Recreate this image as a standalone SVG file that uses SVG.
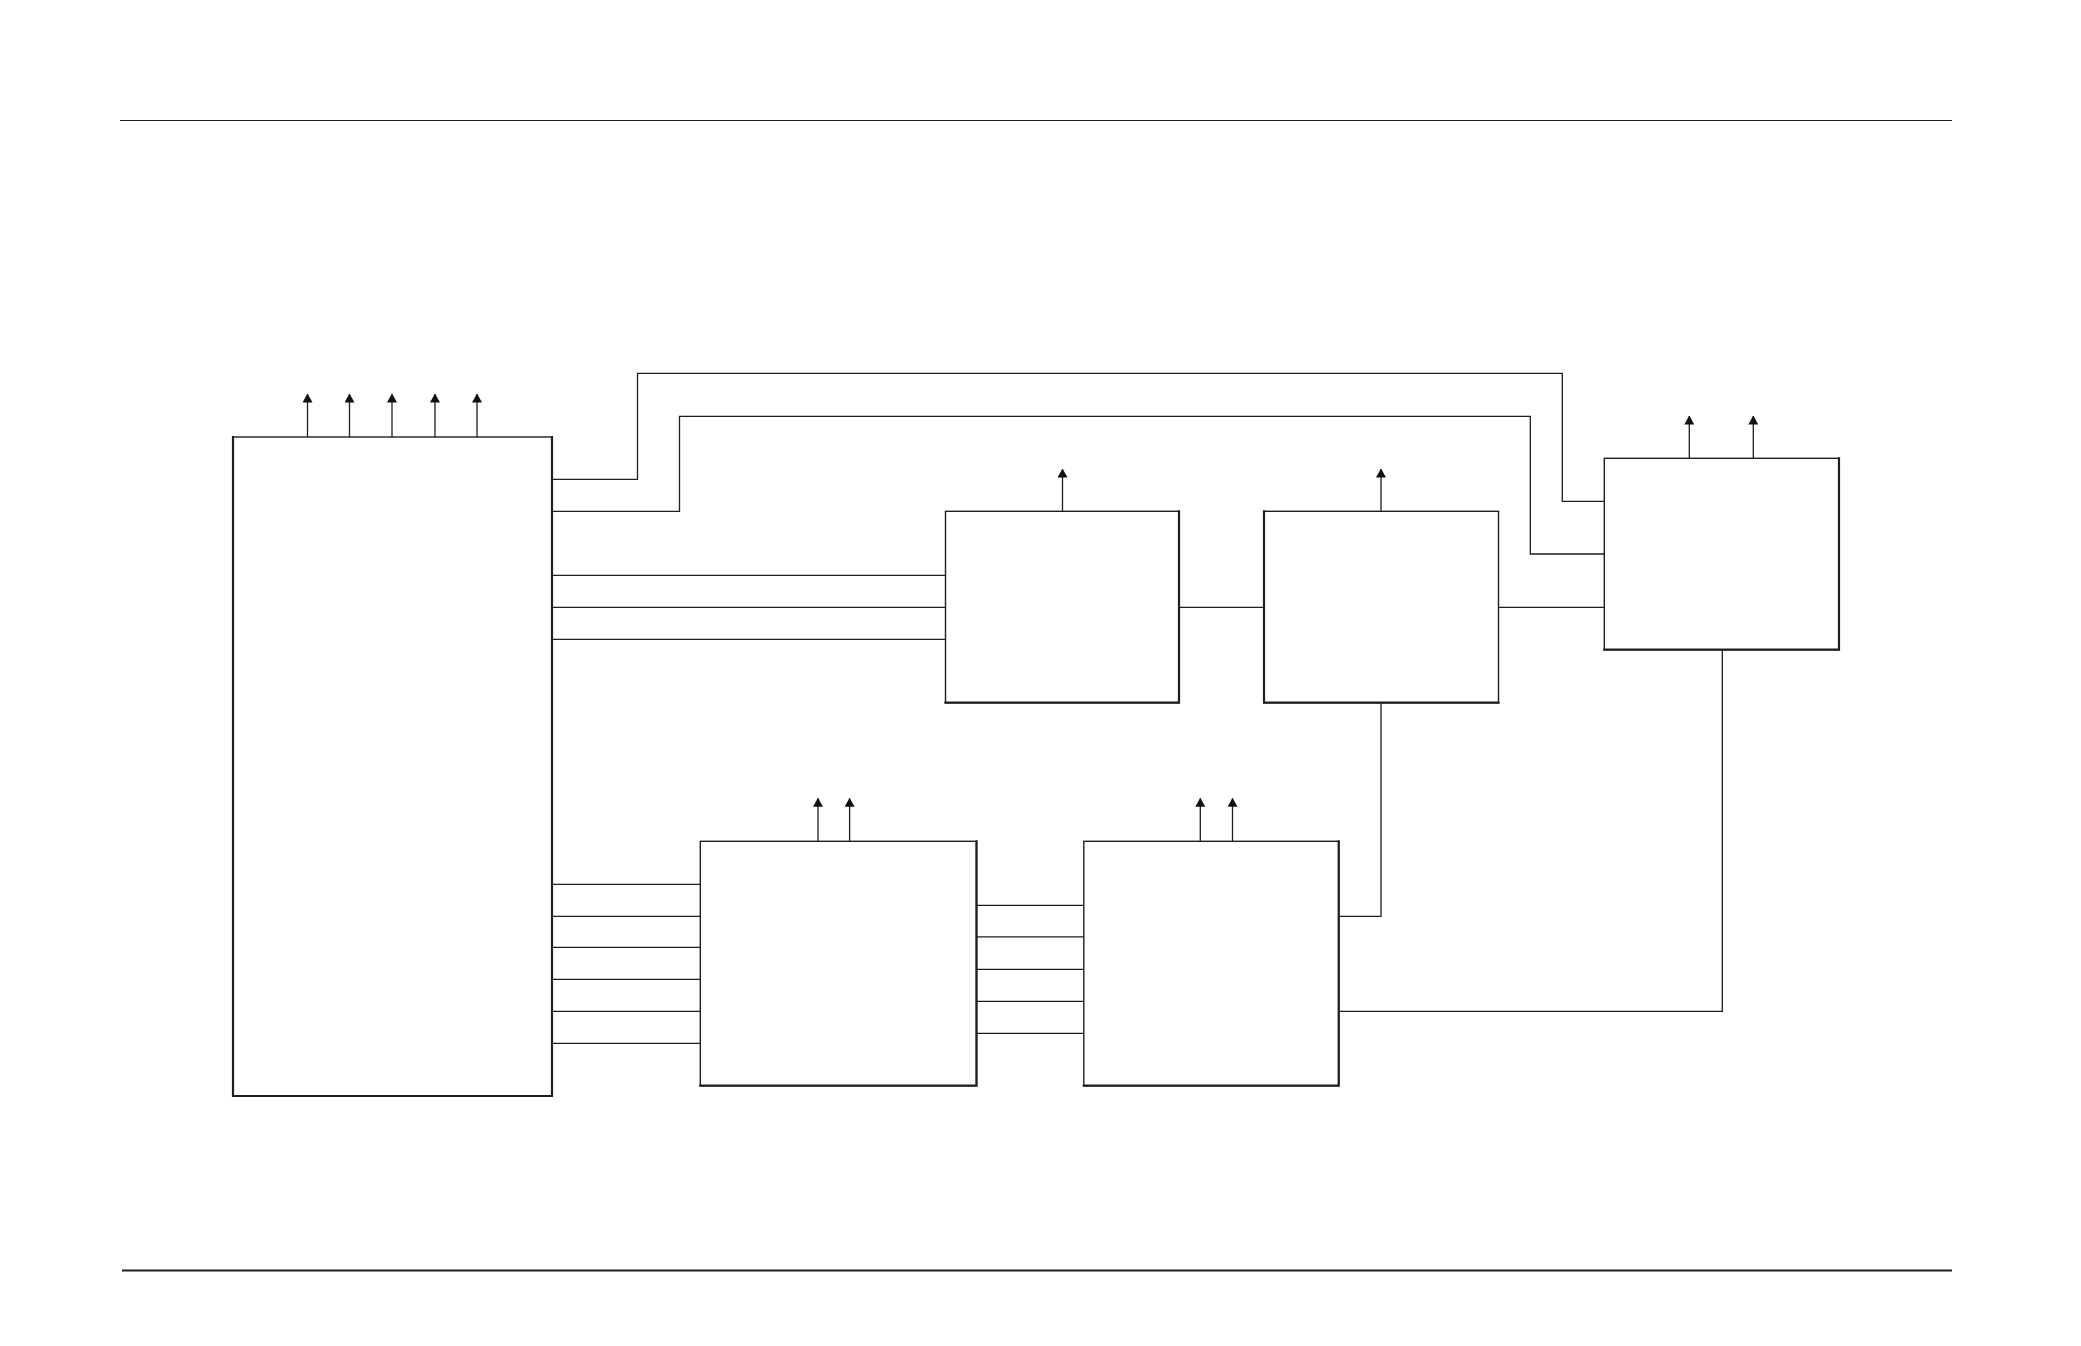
<svg xmlns="http://www.w3.org/2000/svg" width="2081" height="1346" viewBox="0 0 2081 1346">
<style>
.bg{fill:#ffffff}
.box{fill:#ffffff;stroke:#1e1e1e;stroke-width:1.4}
.shadow{fill:none;stroke:#1e1e1e;stroke-width:2.2;stroke-linecap:square}
.wire{fill:none;stroke:#1e1e1e;stroke-width:1.3}
.out{fill:none;stroke:#1e1e1e;stroke-width:1.3;marker-end:url(#tip)}
.rule{stroke:#1e1e1e;fill:none}
</style>
<defs>
<marker id="tip" viewBox="0 0 9 10" refX="8.5" refY="5" markerWidth="9" markerHeight="10" markerUnits="userSpaceOnUse" orient="auto">
<path d="M0,0 L9,5 L0,10 z" fill="#111111"/>
</marker>
</defs>
<rect class="bg" x="0" y="0" width="2081" height="1346"/>
<g id="rules">
<line class="rule" x1="120" y1="120.5" x2="1952" y2="120.5" stroke-width="1.2"/>
<line class="rule" x1="122" y1="1270.5" x2="1952" y2="1270.5" stroke-width="2.2"/>
</g>
<g id="connectors">
<path class="wire" d="M552 479.3 H637.5 V373.3 H1562.3 V501.3 H1604.3"/>
<path class="wire" d="M552 511.3 H679.5 V416.3 H1530.3 V554 H1604.3"/>
<path class="wire" d="M552 575.3 H945.5 M552 607.3 H945.5 M552 639.3 H945.5"/>
<path class="wire" d="M1179 607.3 H1264"/>
<path class="wire" d="M1498.5 607.3 H1604.3"/>
<path class="wire" d="M1381 702.7 V916.3 H1338.7"/>
<path class="wire" d="M1722.3 649.7 V1011.3 H1338.7"/>
<path class="wire" d="M552 884.3 H700.3 M552 916.3 H700.3 M552 947.3 H700.3 M552 979.3 H700.3 M552 1011.3 H700.3 M552 1043.3 H700.3"/>
<path class="wire" d="M976.5 905.3 H1083.8 M976.5 936.8 H1083.8 M976.5 969.3 H1083.8 M976.5 1001.3 H1083.8 M976.5 1033.3 H1083.8"/>
<path class="out" d="M307.5 437 V394"/>
<path class="out" d="M349.5 437 V394"/>
<path class="out" d="M392 437 V394"/>
<path class="out" d="M435 437 V394"/>
<path class="out" d="M477 437 V394"/>
<path class="out" d="M1062.5 511.3 V469"/>
<path class="out" d="M1381 511.3 V469"/>
<path class="out" d="M1689.3 458.3 V416"/>
<path class="out" d="M1753.3 458.3 V416"/>
<path class="out" d="M818 841.3 V798.3"/>
<path class="out" d="M849.6 841.3 V798.3"/>
<path class="out" d="M1200.3 841.3 V798.3"/>
<path class="out" d="M1232.5 841.3 V798.3"/>
</g>
<g id="node-main">
<rect class="box" x="233" y="437" width="319" height="659"/>
<path class="shadow" d="M552 437 V1096 H233 V437"/>
</g>
<g id="node-a">
<rect class="box" x="945.5" y="511.3" width="233.5" height="191.4"/>
<path class="shadow" d="M1179 511.3 V702.7 H945.5"/>
</g>
<g id="node-b">
<rect class="box" x="1264" y="511.3" width="234.5" height="191.4"/>
<path class="shadow" d="M1264 511.3 V702.7 H1498.5"/>
</g>
<g id="node-c">
<rect class="box" x="1604.3" y="458.3" width="234.7" height="191.4"/>
<path class="shadow" d="M1839 458.3 V649.7 H1604.3"/>
</g>
<g id="node-d">
<rect class="box" x="700.3" y="841.3" width="276.2" height="244.4"/>
<path class="shadow" d="M976.5 841.3 V1085.7 H700.3"/>
</g>
<g id="node-e">
<rect class="box" x="1083.8" y="841.3" width="254.9" height="244.4"/>
<path class="shadow" d="M1338.7 841.3 V1085.7 H1083.8"/>
</g>
</svg>
